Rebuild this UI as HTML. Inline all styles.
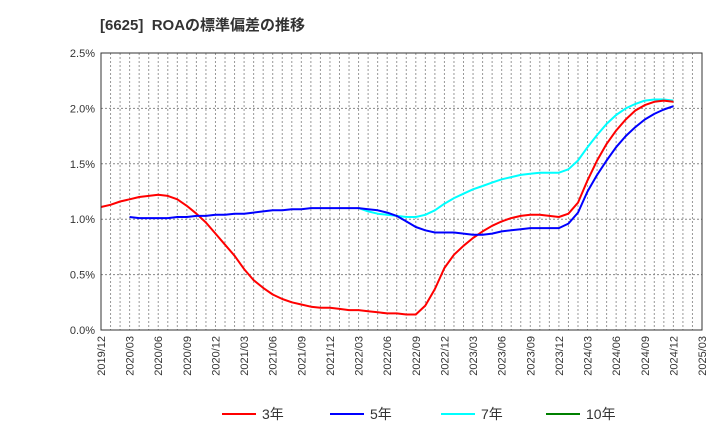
<!DOCTYPE html>
<html><head><meta charset="utf-8"><style>
body{margin:0;background:#fff;font-family:"Liberation Sans","Noto Sans CJK JP",sans-serif;}
svg text{font-family:"Liberation Sans","Noto Sans CJK JP",sans-serif;}
</style></head><body>
<svg id="c" width="720" height="440" xmlns="http://www.w3.org/2000/svg">
<text x="100" y="30" font-size="15" font-weight="bold" fill="#333">[6625]&#160; ROAの標準偏差の推移</text>
<g id="grid"></g><g id="series"></g><g id="axes"></g><g id="legend"></g>
</svg>
<script>
const xLabels=["2019/12","2020/03","2020/06","2020/09","2020/12","2021/03","2021/06","2021/09","2021/12","2022/03","2022/06","2022/09","2022/12","2023/03","2023/06","2023/09","2023/12","2024/03","2024/06","2024/09","2024/12","2025/03"];
const yTicks=[0,0.5,1.0,1.5,2.0,2.5];
const roa3=[1.11,1.13,1.16,1.18,1.20,1.21,1.22,1.21,1.18,1.12,1.05,0.97,0.87,0.77,0.67,0.55,0.45,0.38,0.32,0.28,0.25,0.23,0.21,0.20,0.20,0.19,0.18,0.18,0.17,0.16,0.15,0.15,0.14,0.14,0.22,0.37,0.56,0.68,0.76,0.83,0.89,0.94,0.98,1.01,1.03,1.04,1.04,1.03,1.02,1.05,1.15,1.35,1.53,1.68,1.80,1.90,1.98,2.03,2.06,2.07,2.06];
const roa5=[null,null,null,1.02,1.01,1.01,1.01,1.01,1.02,1.02,1.03,1.03,1.04,1.04,1.05,1.05,1.06,1.07,1.08,1.08,1.09,1.09,1.10,1.10,1.10,1.10,1.10,1.10,1.09,1.08,1.06,1.03,0.98,0.93,0.90,0.88,0.88,0.88,0.87,0.86,0.86,0.87,0.89,0.90,0.91,0.92,0.92,0.92,0.92,0.96,1.06,1.25,1.40,1.53,1.65,1.75,1.83,1.90,1.95,1.99,2.02];
const roa7=[null,null,null,null,null,null,null,null,null,null,null,null,null,null,null,null,null,null,null,null,null,null,null,null,null,null,null,1.10,1.07,1.05,1.04,1.03,1.02,1.02,1.04,1.08,1.14,1.19,1.23,1.27,1.30,1.33,1.36,1.38,1.40,1.41,1.42,1.42,1.42,1.45,1.53,1.65,1.76,1.86,1.94,2.00,2.04,2.07,2.08,2.08,2.07];
const roa10=[];
const L=101,R=702,T=53,B=330,months=63;
const xs=i=>L+(R-L)*i/months;
const ys=v=>B-(B-T)*v/2.5;
const NS="http://www.w3.org/2000/svg";
function mk(tag,attrs,parent){const e=document.createElementNS(NS,tag);for(const k in attrs)e.setAttribute(k,attrs[k]);parent.appendChild(e);return e;}
const grid=document.getElementById('grid'),axes=document.getElementById('axes'),ser=document.getElementById('series'),leg=document.getElementById('legend');
for(let m=1;m<months;m++){const l=mk('line',{x1:xs(m),x2:xs(m),y1:T,y2:B,stroke:'#999','stroke-dasharray':'2,2','stroke-width':1},grid);

}
yTicks.forEach(v=>{if(v>0&&v<2.5){const l=mk('line',{x1:L,x2:R,y1:ys(v),y2:ys(v),stroke:'#888','stroke-dasharray':'2,2','stroke-width':1},grid);

}
const t=mk('text',{x:L-6,y:ys(v)+4,'text-anchor':'end','font-size':11,fill:'#333'},axes);t.textContent=v.toFixed(1)+'%';

});
const fr=mk('rect',{x:L,y:T,width:R-L,height:B-T,fill:'none',stroke:'#333','stroke-width':1},axes);


xLabels.forEach((s,i)=>{const x=xs(i*3);const t=mk('text',{x:x+4,y:B+6,'text-anchor':'end','font-size':11,fill:'#333',transform:`rotate(-90 ${x+4} ${B+6})`},axes);t.textContent=s;

});
function draw(data,color,name){let d='',pen=false;data.forEach((v,i)=>{if(v==null){pen=false;return;}d+=(pen?'L':'M')+xs(i).toFixed(1)+','+ys(v).toFixed(1);pen=true;});
if(!d)return;const p=mk('path',{d:d,fill:'none',stroke:color,'stroke-width':2,'stroke-linejoin':'round'},ser);

}
draw(roa7,'#00ffff','series-7yr');draw(roa3,'#ff0000','series-3yr');draw(roa5,'#0000ff','series-5yr');draw(roa10,'#008000','series-10yr');
const items=[['3年','#ff0000',222],['5年','#0000ff',330],['7年','#00ffff',441],['10年','#008000',546]];
items.forEach(([n,c,x])=>{const g=mk('g',{},leg);


mk('line',{x1:x,x2:x+34,y1:414,y2:414,stroke:c,'stroke-width':2},g);
const t=mk('text',{x:x+40,y:419,'font-size':14,fill:'#333'},g);t.textContent=n;});
</script>
</body></html>
